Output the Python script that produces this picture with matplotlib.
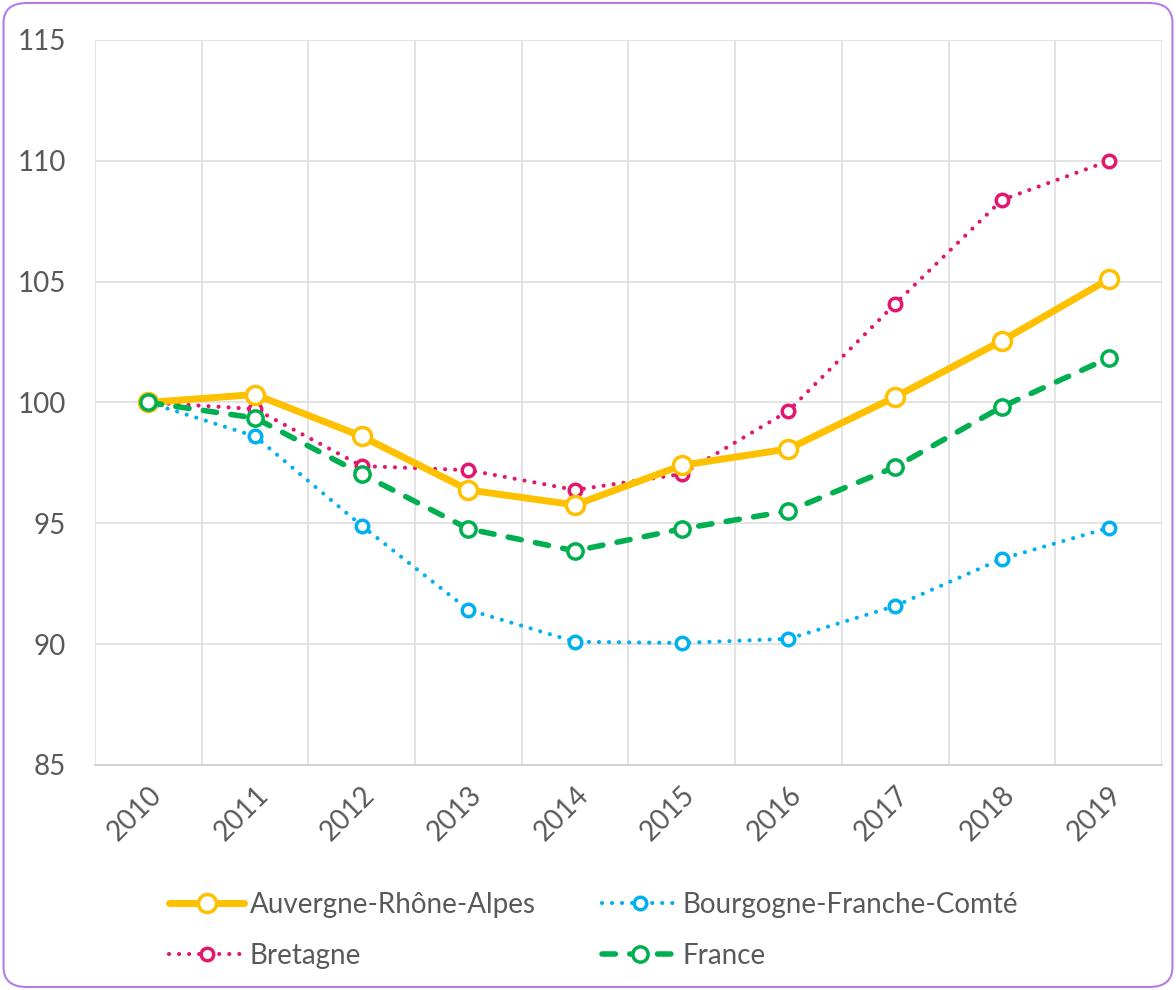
import matplotlib.pyplot as plt
from matplotlib.patches import FancyBboxPatch
import numpy as np

plt.rcParams['font.family'] = ['Lato', 'DejaVu Sans']

years = ['2010', '2011', '2012', '2013', '2014', '2015', '2016', '2017', '2018', '2019']
auvergne = [100.0, 100.33, 98.6, 96.38, 95.76, 97.4, 98.08, 100.23, 102.55, 105.1]
bourgogne = [100.0, 98.6, 94.9, 91.42, 90.1, 90.05, 90.22, 91.58, 93.53, 94.81]
bretagne = [100.0, 99.73, 97.37, 97.2, 96.38, 97.04, 99.65, 104.08, 108.38, 109.99]
france = [100.0, 99.36, 97.04, 94.77, 93.86, 94.77, 95.51, 97.33, 99.82, 101.84]

text_color = '#595959'
grid_color = '#e0e0e0'
dots = (0, (0.01, 2.4))

fig = plt.figure(figsize=(11.76, 9.9), dpi=100)
ax = fig.add_axes([0.0808, 0.2273, 0.9072, 0.7323])

x = np.arange(len(years))

l_aura, = ax.plot(x, auvergne, color='#FFC000', lw=5, solid_capstyle='round',
                  marker='o', ms=13, mfc='white', mec='#FFC000', mew=2.5,
                  label='Auvergne-Rhône-Alpes', zorder=5)
l_bfc, = ax.plot(x, bourgogne, color='#00B0F0', lw=3, linestyle=dots,
                 dash_capstyle='round', marker='o', ms=9, mfc='white',
                 mec='#00B0F0', mew=2.5, label='Bourgogne-Franche-Comté', zorder=3)
l_bret, = ax.plot(x, bretagne, color='#E2186F', lw=3, linestyle=dots,
                  dash_capstyle='round', marker='o', ms=9, mfc='white',
                  mec='#E2186F', mew=2.5, label='Bretagne', zorder=4)
l_fr, = ax.plot(x, france, color='#00B050', lw=4, linestyle=(0, (2.4, 2.6)),
                dash_capstyle='round', marker='o', ms=11, mfc='white',
                mec='#00B050', mew=2.5, label='France', zorder=6)

ax.set_xlim(-0.5, len(years) - 0.5)
ax.set_ylim(85, 115)
ax.set_yticks(np.arange(85, 116, 5))
ax.set_xticks(x)
ax.set_xticklabels(years, rotation=45, ha='right', va='top', rotation_mode='anchor')
ax.set_xticks(np.arange(-0.5, len(years)), minor=True)

ax.grid(True, axis='y', color=grid_color, lw=1.3)
ax.grid(True, axis='x', which='minor', color=grid_color, lw=1.3)
ax.set_axisbelow(True)

for side in ['top', 'right', 'left']:
    ax.spines[side].set_visible(False)
ax.spines['bottom'].set_color('#d0d0d0')
ax.spines['bottom'].set_linewidth(1.3)

ax.tick_params(axis='both', which='both', length=0, labelsize=20, labelcolor=text_color)
ax.tick_params(axis='y', pad=21)
ax.tick_params(axis='x', pad=12)

leg = fig.legend(handles=[l_aura, l_bret, l_bfc, l_fr], ncol=2,
                 loc='center', bbox_to_anchor=(0.505, 0.06), frameon=False,
                 fontsize=20, handlelength=2.7, handletextpad=0.2,
                 columnspacing=2.4, labelspacing=0.9)
for t in leg.get_texts():
    t.set_color(text_color)

border = FancyBboxPatch((0.003, 0.003), 0.994, 0.994,
                        boxstyle='round,pad=0,rounding_size=0.02',
                        transform=fig.transFigure, fill=False,
                        edgecolor='#B57BEA', lw=1.5)
fig.patches.append(border)

fig.savefig('out.png', dpi=100)
